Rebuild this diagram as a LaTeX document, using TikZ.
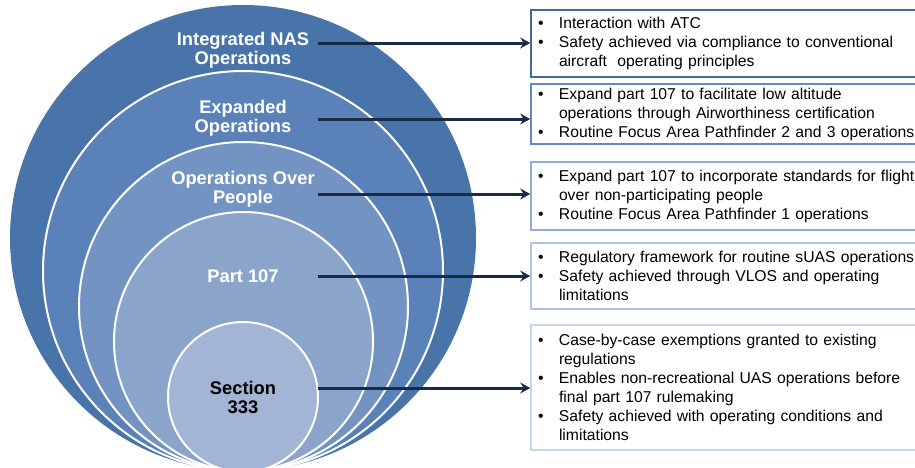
\documentclass[tikz,border=0pt]{standalone}
\usepackage{fontspec}
\setmainfont{Liberation Sans}
\usepackage{tikz}
\usetikzlibrary{shapes,arrows,arrows.meta}
\definecolor{ringa}{HTML}{4874AA}
\definecolor{ringb}{HTML}{5A82B9}
\definecolor{ringc}{HTML}{7394C3}
\definecolor{ringd}{HTML}{8AA4CA}
\definecolor{ringe}{HTML}{A3B5D5}
\definecolor{edgea}{HTML}{41699E}
\definecolor{edgeb}{HTML}{5F8AC6}
\definecolor{edgec}{HTML}{8DADDC}
\definecolor{edged}{HTML}{AFC4E4}
\definecolor{edgee}{HTML}{C6D5EC}
\definecolor{navy}{HTML}{182C47}
\tikzstyle{ring} = [circle, draw=white, line width=2pt, inner sep=0pt]
\tikzstyle{lab} = [text=white, align=center, 
font=\fontsize{18.3}{19}\selectfont\bfseries]
\tikzstyle{block} = [rectangle, draw, line width=1.6pt, text width=390pt, 
align=left, inner xsep=7pt, inner ysep=3pt, font=\fontsize{15.7}{19}\selectfont]
\tikzstyle{line} = [draw, -{Stealth[length=10pt,width=11pt,inset=3.5pt]}, 
line width=3pt, navy]
\newcommand{\bul}{\makebox[21pt][l]{\textbullet}}
\newcommand{\ind}{\hspace*{21pt}}

\begin{document}
\begin{tikzpicture}[x=1pt, y=-1pt]
    \clip (0,0) rectangle (915,467);
    % Place circles
    \node [ring, draw=none, fill=ringa, minimum size=466pt] (c1) at (243,238) {};
    \node [ring, fill=ringb, minimum size=400pt] (c2) at (243,271) {};
    \node [ring, fill=ringc, minimum size=329pt] (c3) at (243.5,306.5) {};
    \node [ring, fill=ringd, minimum size=259pt] (c4) at (243.5,341.5) {};
    \node [ring, fill=ringe, minimum size=150pt] (c5) at (243,397) {};

    % Circle labels
    \node [lab] (l1) at (243,50) {Integrated NAS\\Operations};
    \node [lab] (l2) at (243,118) {Expanded\\Operations};
    \node [lab] (l3) at (243,189) {Operations Over\\People};
    \node [lab] (l4) at (243,276) {Part 107};
    \node [lab, text=black] (l5) at (243,397) {Section\\333};

    % Place boxes
    \node [block, draw=edgea, minimum height=67pt] (b1) at (733,43.5)
    {\bul Interaction with ATC\\
     \bul Safety achieved via compliance to conventional\\
     \ind aircraft\ \ operating principles};
    \node [block, draw=edgeb, minimum height=60pt, below of=b1, 
    node distance=70.5pt] (b2)
    {\bul Expand part 107 to facilitate low altitude\\
     \ind operations through Airworthiness certification\\
     \bul Routine Focus Area Pathfinder 2 and 3 operations};
    \node [block, draw=edgec, minimum height=68pt, below of=b2, 
    node distance=82pt] (b3)
    {\bul Expand part 107 to incorporate standards for flight\\
     \ind over non-participating people\\
     \bul Routine Focus Area Pathfinder 1 operations};
    \node [block, draw=edged, minimum height=66pt, below of=b3, 
    node distance=80pt] (b4)
    {\bul Regulatory framework for routine sUAS operations\\
     \bul Safety achieved through VLOS and operating\\
     \ind limitations};
    \node [block, draw=edgee, minimum height=125pt, below of=b4, 
    node distance=111.5pt] (b5)
    {\bul Case-by-case exemptions granted to existing\\
     \ind regulations\\
     \bul Enables non-recreational UAS operations before\\
     \ind final part 107 rulemaking\\
     \bul Safety achieved with operating conditions and\\
     \ind limitations};

    % Draw edges
    \coordinate (s1) at (318,43);
    \coordinate (s2) at (318,119);
    \coordinate (s3) at (318,194);
    \coordinate (s4) at (318,276);
    \coordinate (s5) at (318,388);
    \path [line] (s1) -- (s1 -| b1.west);
    \path [line] (s2) -- (s2 -| b2.west);
    \path [line] (s3) -- (s3 -| b3.west);
    \path [line] (s4) -- (s4 -| b4.west);
    \path [line] (s5) -- (s5 -| b5.west);
\end{tikzpicture}
\end{document}
